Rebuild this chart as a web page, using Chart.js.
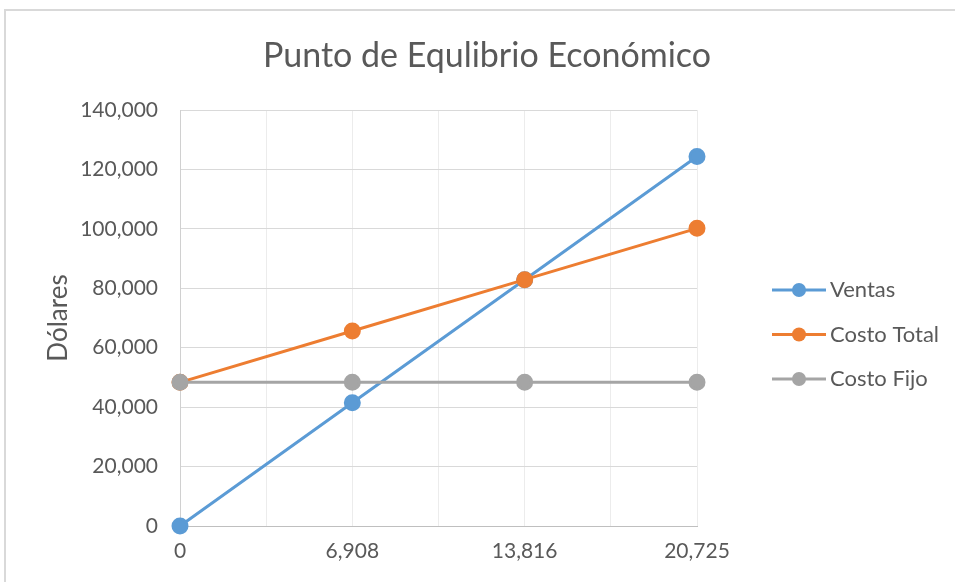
<!DOCTYPE html>
<html>
<head>
<meta charset="utf-8">
<script src="https://cdn.jsdelivr.net/npm/chart.js@4.4.1/dist/chart.umd.min.js"></script>
<style>
  html, body { margin: 0; padding: 0; background: #fff; overflow: hidden; }
  #marco { position: absolute; left: 4px; top: 9px; width: 1000px; height: 700px;
           border-top: 2px solid #d9d9d9; border-left: 2px solid #d9d9d9; }
  #wrap { position: absolute; left: 0; top: 0; width: 955px; height: 582px; }
</style>
</head>
<body>
<div id="marco"></div>
<div id="wrap"><canvas id="Chart" width="955" height="582"></canvas></div>
<script>
/* datos del grafico */
const unidades = [0, 6908, 13816, 20725];
const etiquetasX = ['0', '6,908', '13,816', '20,725'];
const ventas = [0, 41448, 82896, 124350];
const costoTotal = [48356, 65626, 82896, 100169];
const costoFijo = [48356, 48356, 48356, 48356];
const series = ['Ventas', 'Costo Total', 'Costo Fijo'];
const colores = ['#5B9BD5', '#ED7D31', '#A5A5A5'];

const FUENTE = 'Lato';
const GRIS = '#595959';

function puntos(valores) {
    return unidades.map((u, i) => ({ x: u, y: valores[i] }));
}

/* leyenda tipo Excel: linea con circulo */
const leyendaExcel = {
    id: 'leyendaExcel',
    afterDraw(chart) {
        const ctx = chart.ctx;
        ctx.save();
        chart.data.datasets.forEach((ds, i) => {
            const y = 290 + i * 44.5;
            ctx.strokeStyle = ds.borderColor;
            ctx.lineWidth = 3;
            ctx.beginPath();
            ctx.moveTo(772, y);
            ctx.lineTo(826, y);
            ctx.stroke();
            ctx.fillStyle = ds.borderColor;
            ctx.beginPath();
            ctx.arc(799, y, 7, 0, Math.PI * 2);
            ctx.fill();
            ctx.fillStyle = GRIS;
            ctx.font = '22px ' + FUENTE;
            ctx.textBaseline = 'middle';
            ctx.textAlign = 'left';
            ctx.fillText(ds.label, 830, y);
        });
        ctx.restore();
    }
};

const ctx = document.getElementById('Chart').getContext('2d');
const myChart = new Chart(ctx, {
    type: 'line',
    data: {
        datasets: [
            { label: series[0], data: puntos(ventas), order: 3 },
            { label: series[1], data: puntos(costoTotal), order: 2 },
            { label: series[2], data: puntos(costoFijo), order: 1 }
        ].map((d, i) => Object.assign(d, {
            borderColor: colores[i],
            backgroundColor: colores[i],
            pointBackgroundColor: colores[i],
            pointBorderColor: colores[i],
            borderWidth: 3,
            pointRadius: 7,
            pointHoverRadius: 7,
            tension: 0,
            clip: false
        }))
    },
    options: {
        responsive: false,
        animation: false,
        layout: { padding: { left: 19, right: 0, top: 0, bottom: 0 } },
        plugins: {
            legend: { display: false },
            tooltip: { enabled: false },
            title: {
                display: true,
                text: 'Punto de Equlibrio Económico',
                color: GRIS,
                font: { family: FUENTE, size: 34, weight: 'normal' },
                padding: { top: 35.6, bottom: 33.6 }
            }
        },
        scales: {
            x: {
                type: 'linear',
                min: unidades[0],
                max: unidades[unidades.length - 1],
                afterBuildTicks(scale) {
                    const t = [];
                    unidades.forEach((u, i) => {
                        t.push({ value: u });
                        if (i < unidades.length - 1) t.push({ value: (u + unidades[i + 1]) / 2 });
                    });
                    scale.ticks = t;
                },
                afterFit(scale) { scale.height = 56; },
                ticks: {
                    autoSkip: false,
                    maxRotation: 0,
                    padding: 13,
                    color: GRIS,
                    font: { family: FUENTE, size: 21 },
                    callback(value) {
                        const i = unidades.indexOf(value);
                        return i >= 0 ? etiquetasX[i] : '';
                    }
                },
                grid: { color: '#ececec', lineWidth: 1, drawTicks: false },
                border: { color: '#bfbfbf', width: 1 }
            },
            y: {
                min: 0,
                max: 140000,
                afterFit(scale) { scale.width = 161; },
                ticks: {
                    stepSize: 20000,
                    padding: 22,
                    color: GRIS,
                    font: { family: FUENTE, size: 21 },
                    callback(value) { return value.toLocaleString('en-US'); }
                },
                grid: { color: '#d9d9d9', lineWidth: 1, drawTicks: false },
                border: { color: '#d0d0d0', width: 1 },
                title: {
                    display: true,
                    text: 'Dólares',
                    color: GRIS,
                    font: { family: FUENTE, size: 26 },
                    padding: { top: 24, bottom: 0 }
                }
            },
            yDer: {
                position: 'right',
                min: 0,
                max: 1,
                afterFit(scale) { scale.width = 258; },
                ticks: { display: false },
                grid: { display: false },
                border: { display: false }
            }
        }
    },
    plugins: [leyendaExcel]
});
</script>
</body>
</html>
